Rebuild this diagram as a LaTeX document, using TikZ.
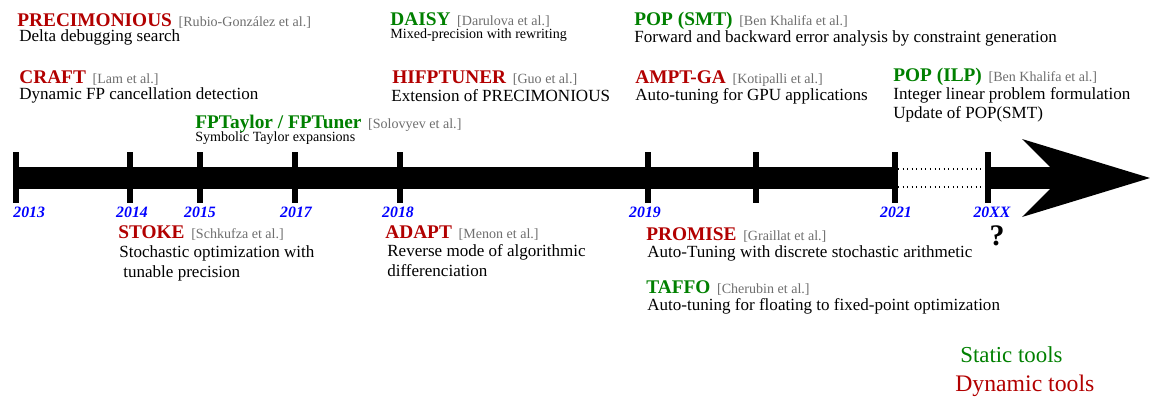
\documentclass[tikz,border=0pt]{standalone}
\usepackage{fontspec}
\setmainfont{Liberation Serif}

\definecolor{toolred}{RGB}{178,0,0}
\definecolor{toolgreen}{RGB}{0,128,0}
\definecolor{citegray}{RGB}{110,110,110}
\definecolor{yearblue}{RGB}{0,0,255}

\tikzset{
  every node/.style={inner sep=0pt},
  tool/.style={anchor=base west, font=\fontsize{11}{12}\selectfont\bfseries},
  static/.style={tool, text=toolgreen},
  dynamic/.style={tool, text=toolred},
  cite/.style={anchor=base west, xshift=0.12cm, text=citegray, font=\fontsize{8}{9}\selectfont},
  desc/.style={anchor=base west, font=\fontsize{9.7}{11}\selectfont},
  smalldesc/.style={anchor=base west, font=\fontsize{8}{9}\selectfont},
  year/.style={anchor=base, text=yearblue, font=\fontsize{9}{10}\selectfont\bfseries\itshape},
  yeartick/.style={line width=0.12cm},
  timebar/.style={line width=0.44cm},
}

\begin{document}
\begin{tikzpicture}[x=0.02cm, y=-0.02cm]
\useasboundingbox (0,0) rectangle (1150,396);

% time line
\draw[timebar] (13,178) -- (895,178);
\draw[timebar] (988,178) -- (1062,178);
\draw[dotted, line width=0.6pt] (898,169) -- (985,169);
\draw[dotted, line width=0.6pt] (898,187) -- (985,187);
\fill (1022,139) -- (1150,178) -- (1022,217) -- (1061,178) -- cycle;

\foreach \x in {16,130,200,295,400,648,756,895,988}
  \draw[yeartick] (\x,152) -- (\x,203);

% years
\node[year, anchor=base west] (y2013) at (13,217) {2013};
\node[year] (y2014) at (132,217) {2014};
\node[year] (y2015) at (200,217) {2015};
\node[year] (y2017) at (296,217) {2017};
\node[year] (y2018) at (398,217) {2018};
\node[year] (y2019) at (645,217) {2019};
\node[year] (y2021) at (896,217) {2021};
\node[year] (y20xx) at (992,217) {20XX};
\node[anchor=base, font=\fontsize{17}{18}\selectfont\bfseries] (unknown) at (997,245) {?};

% tools above the line
\node[dynamic] (precimonious) at (17,26) {PRECIMONIOUS};
\node[cite] (precimonious-cite) at (precimonious.base east) {[Rubio-González et al.]};
\node[desc] (precimonious-desc) at (19,41) {Delta debugging search};

\node[dynamic] (craft) at (19,83) {CRAFT};
\node[cite] (craft-cite) at (craft.base east) {[Lam et al.]};
\node[desc] (craft-desc) at (19,99) {Dynamic FP cancellation detection};

\node[static] (fptaylor) at (195,128) {FPTaylor / FPTuner};
\node[cite] (fptaylor-cite) at (fptaylor.base east) {[Solovyev et al.]};
\node[smalldesc] (fptaylor-desc) at (195,141) {Symbolic Taylor expansions};

\node[static] (daisy) at (390,25) {DAISY};
\node[cite] (daisy-cite) at (daisy.base east) {[Darulova et al.]};
\node[smalldesc] (daisy-desc) at (390,38) {Mixed-precision with rewriting};

\node[dynamic] (hifptuner) at (392,83) {HIFPTUNER};
\node[cite] (hifptuner-cite) at (hifptuner.base east) {[Guo et al.]};
\node[desc] (hifptuner-desc) at (391,101) {Extension of PRECIMONIOUS};

\node[static] (popsmt) at (634,25) {POP (SMT)};
\node[cite] (popsmt-cite) at (popsmt.base east) {[Ben Khalifa et al.]};
\node[desc] (popsmt-desc) at (634,42) {Forward and backward error analysis by constraint generation};

\node[dynamic] (amptga) at (635,83) {AMPT-GA};
\node[cite] (amptga-cite) at (amptga.base east) {[Kotipalli et al.]};
\node[desc] (amptga-desc) at (635,100) {Auto-tuning for GPU applications};

\node[static] (popilp) at (893,81) {POP (ILP)};
\node[cite] (popilp-cite) at (popilp.base east) {[Ben Khalifa et al.]};
\node[desc] (popilp-desc) at (893,99) {Integer linear problem formulation};
\node[desc] (popilp-desc2) at (893,118) {Update of POP(SMT)};

% tools below the line
\node[dynamic] (stoke) at (118,238) {STOKE};
\node[cite] (stoke-cite) at (stoke.base east) {[Schkufza et al.]};
\node[desc] (stoke-desc) at (119,257) {Stochastic optimization with};
\node[desc] (stoke-desc2) at (123,277) {tunable precision};

\node[dynamic] (adapt) at (385,238) {ADAPT};
\node[cite] (adapt-cite) at (adapt.base east) {[Menon et al.]};
\node[desc] (adapt-desc) at (387,256) {Reverse mode of algorithmic};
\node[desc] (adapt-desc2) at (387,276) {differenciation};

\node[dynamic] (promise) at (646,240) {PROMISE};
\node[cite] (promise-cite) at (promise.base east) {[Graillat et al.]};
\node[desc] (promise-desc) at (647,257) {Auto-Tuning with discrete stochastic arithmetic};

\node[static] (taffo) at (646,293) {TAFFO};
\node[cite] (taffo-cite) at (taffo.base east) {[Cherubin et al.]};
\node[desc] (taffo-desc) at (647,310) {Auto-tuning for floating to fixed-point optimization};

% legend
\node[anchor=base west, text=toolgreen, font=\fontsize{13}{14}\selectfont] (static-legend) at (960,362) {Static tools};
\node[anchor=base west, text=toolred, font=\fontsize{13.5}{14}\selectfont] (dynamic-legend) at (955,391) {Dynamic tools};

\end{tikzpicture}
\end{document}
